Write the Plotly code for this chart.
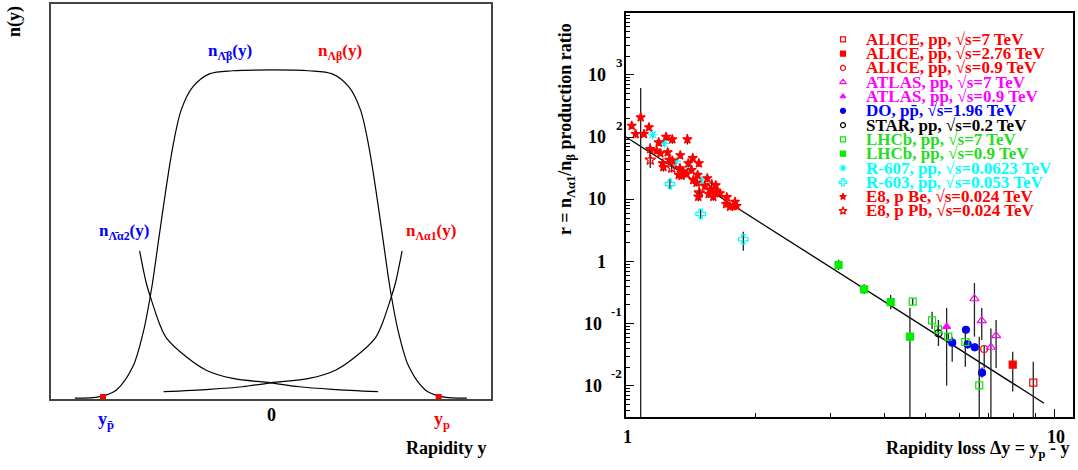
import plotly.graph_objects as go

W, H = 1078, 470
FONT = "Liberation Serif"

# ---------------- left panel : schematic rapidity densities ----------------
beta_y = [-1.168, -1.020, -0.920, -0.822, -0.762, -0.712, -0.663, -0.623, -0.584, -0.534,
          -0.465, -0.366, -0.227, 0.0, 0.227, 0.366, 0.465, 0.534, 0.584, 0.623, 0.663,
          0.712, 0.762, 0.822, 0.920, 1.020, 1.168]
beta_n = [0.002, 0.006, 0.023, 0.082, 0.166, 0.276, 0.420, 0.537, 0.639, 0.732,
          0.790, 0.823, 0.831, 0.833, 0.831, 0.823, 0.790, 0.732, 0.639, 0.537, 0.420,
          0.276, 0.166, 0.082, 0.023, 0.006, 0.002]
a2_y = [-0.782, -0.742, -0.712, -0.663, -0.623, -0.504, -0.385, -0.227, 0.0, 0.169, 0.367, 0.639]
a2_n = [0.375, 0.293, 0.251, 0.190, 0.155, 0.107, 0.073, 0.052, 0.041, 0.031, 0.0245, 0.0185]
a1_y = [-0.639, -0.367, -0.169, 0.0, 0.227, 0.385, 0.504, 0.623, 0.663, 0.712, 0.742, 0.782]
a1_n = [0.0185, 0.0245, 0.031, 0.041, 0.052, 0.073, 0.107, 0.155, 0.190, 0.251, 0.293, 0.375]
beam_y = [-1.0, 1.0]
beam_n = [0.005, 0.005]

# ---------------- right panel : measured ratios ----------------
alice7_dy = [8.90];  alice7_r = [0.0113];  alice7_lo = [0.001];  alice7_hi = [0.0245]
alice276_dy = [7.97]; alice276_r = [0.0219]; alice276_lo = [0.0081]; alice276_hi = [0.0355]
alice09_dy = [6.84]; alice09_r = [0.0392]; alice09_lo = [0.0192]; alice09_hi = [0.045]
atlas7_dy = [6.49, 6.75, 7.09, 7.29]
atlas7_r = [0.252, 0.112, 0.0418, 0.0641]
atlas7_lo = [0.0618, 0.0547, 0.001, 0.0194]
atlas7_hi = [0.451, 0.179, 0.084, 0.115]
atlas09_dy = [5.59]; atlas09_r = [0.0895]; atlas09_lo = [0.0101]; atlas09_hi = [0.179]
d0_dy = [6.20, 5.76, 6.26, 6.50, 6.76]
d0_r = [0.080, 0.0495, 0.0466, 0.0418, 0.0163]
d0_lo = [0.070, 0.0245, 0.040, 0.036, 0.0135]
d0_hi = [0.092, 0.0618, 0.054, 0.048, 0.0197]
star_dy = [5.35]; star_r = [0.0701]; star_lo = [0.0437]; star_hi = [0.115]
lhcb7_dy = [4.66, 5.17, 5.34, 5.64, 6.18, 6.66]
lhcb7_r = [0.226, 0.1135, 0.0813, 0.0618, 0.0508, 0.0102]
lhcb7_lo = [0.20, 0.082, 0.070, 0.055, 0.0204, 0.001]
lhcb7_hi = [0.26, 0.156, 0.095, 0.070, 0.082, 0.0618]
lhcb09_dy = [3.13, 3.59, 4.14, 4.59]
lhcb09_r = [0.879, 0.357, 0.223, 0.0618]
lhcb09_lo = [0.73, 0.30, 0.17, 0.001]
lhcb09_hi = [1.06, 0.43, 0.29, 0.179]
r607_dy = [1.154, 1.228, 1.308, 1.397, 1.501]
r607_r = [109, 79, 41, 30.4, 19.7]
r607_lo = [98, 71, 37, 27.5, 17.8]
r607_hi = [120, 87, 45, 33.5, 21.7]
r603_dy = [1.266, 1.493, 1.877]
r603_r = [17.6, 5.8, 2.27]
r603_lo = [14.5, 4.9, 1.49]
r603_hi = [21.5, 7.0, 3.0]
e8be_dy = [1.031, 1.082, 1.053, 1.101, 1.131, 1.139, 1.192, 1.240, 1.282, 1.390,
           1.179, 1.202, 1.251, 1.338, 1.262, 1.218, 1.222, 1.282, 1.431, 1.479,
           1.397, 1.336, 1.360, 1.327, 1.348, 1.385, 1.422, 1.469, 1.435, 1.461,
           1.482, 1.474, 1.547, 1.570, 1.559, 1.619, 1.627, 1.656, 1.718, 1.711,
           1.748, 1.779, 1.811, 1.795, 1.528, 1.598]
e8be_r = [152, 208, 112, 112, 144, 64, 82, 101, 92, 92,
          60, 55, 57, 51, 43, 38, 33, 42, 46, 38,
          38, 31.5, 27.8, 24.6, 23.9, 25.5, 29.6, 24.6, 20.4, 18.5,
          12.5, 11.0, 21.8, 14.1, 12.2, 16.8, 13.3, 12.5, 10.8, 8.4,
          7.6, 7.8, 7.8, 9.1, 16.4, 11.0]
e8be_lo = [135, 0.001, 98, 100, 128, 50, 72, 88, 78, 76,
           53, 49, 50, 45, 38, 33, 28, 37, 40, 33,
           33, 27.5, 24.5, 21.5, 21, 22.5, 26, 21.5, 17.5, 16,
           10.5, 9.3, 19, 12.3, 10.5, 14.8, 11.6, 11, 9.4, 7.3,
           6.8, 6.9, 6.9, 8.0, 14.3, 9.5]
e8be_hi = [170, 615, 126, 124, 160, 80, 92, 114, 106, 112,
           67, 61, 64, 57, 48, 43, 38, 47, 52, 43,
           43, 35.5, 31, 27.7, 26.8, 28.5, 33, 27.7, 23.3, 21,
           14.6, 12.7, 24.6, 16, 14, 18.8, 15, 14, 12.3, 9.6,
           8.4, 8.7, 8.7, 10.2, 18.5, 12.5]
e8pb_dy = [1.139, 1.278, 1.482, 1.585]
e8pb_r = [43, 32, 12.8, 17]
e8pb_lo = [32, 27, 11, 15]
e8pb_hi = [62, 38, 15, 19]

fit_A = 100.0      # r(Δy=1)
fit_slope = -4.39  # power-law exponent
fit_dy = [1.0, 9.43]

legend_labels = ["ALICE, pp, √s=7 TeV", "ALICE, pp, √s=2.76 TeV", "ALICE, pp, √s=0.9 TeV",
                 "ATLAS, pp, √s=7 TeV", "ATLAS, pp, √s=0.9 TeV", "DO, pp̄, √s=1.96 TeV",
                 "STAR, pp, √s=0.2 TeV", "LHCb, pp, √s=7 TeV", "LHCb, pp, √s=0.9 TeV",
                 "R-607, pp, √s=0.0623 TeV", "R-603, pp, √s=0.053 TeV",
                 "E8, p Be, √s=0.024 TeV", "E8, p Pb, √s=0.024 TeV"]

RED, MAG, BLUE, BLK, GRN, CYN = "#ff0000", "#ff00ff", "#0000ff", "#000000", "#00ee00", "#00ffff"

series = [
    (alice7_dy, alice7_r, alice7_lo, alice7_hi, "square-open", RED, 7),
    (alice276_dy, alice276_r, alice276_lo, alice276_hi, "square", RED, 7),
    (alice09_dy, alice09_r, alice09_lo, alice09_hi, "circle-open", RED, 7),
    (atlas7_dy, atlas7_r, atlas7_lo, atlas7_hi, "triangle-up-open", MAG, 8),
    (atlas09_dy, atlas09_r, atlas09_lo, atlas09_hi, "triangle-up", MAG, 7),
    (d0_dy, d0_r, d0_lo, d0_hi, "circle", BLUE, 7),
    (star_dy, star_r, star_lo, star_hi, "circle-open", BLK, 7),
    (lhcb7_dy, lhcb7_r, lhcb7_lo, lhcb7_hi, "square-open", GRN, 7),
    (lhcb09_dy, lhcb09_r, lhcb09_lo, lhcb09_hi, "square", GRN, 7),
    (r607_dy, r607_r, r607_lo, r607_hi, "asterisk-open", CYN, 8),
    (r603_dy, r603_r, r603_lo, r603_hi, "cross-open", CYN, 8),
    (e8be_dy, e8be_r, e8be_lo, e8be_hi, "star", RED, 7),
    (e8pb_dy, e8pb_r, e8pb_lo, e8pb_hi, "star-open", RED, 8),
]

fig = go.Figure()


def px2x(px):
    return px / W


def px2y(py):
    return 1 - py / H


# left panel curves
for xs, ns in [(beta_y, beta_n), (a1_y, a1_n), (a2_y, a2_n)]:
    fig.add_trace(go.Scatter(x=xs, y=ns, mode="lines",
                             line=dict(color="black", width=1.2, shape="spline", smoothing=0.9),
                             xaxis="x", yaxis="y", showlegend=False, hoverinfo="skip"))
fig.add_trace(go.Scatter(x=beam_y, y=beam_n, mode="markers", marker=dict(symbol="square", color=RED, size=6),
                         xaxis="x", yaxis="y", showlegend=False, cliponaxis=False))

# right panel: fit line
fit_r = [fit_A * d ** fit_slope for d in fit_dy]
fig.add_trace(go.Scatter(x=fit_dy, y=fit_r, mode="lines", line=dict(color="black", width=1.3),
                         xaxis="x2", yaxis="y2", showlegend=False))

# right panel: data
for dy, r, lo, hi, sym, col, sz in series:
    ep = [h - v for h, v in zip(hi, r)]
    em = [v - l for v, l in zip(r, lo)]
    fig.add_trace(go.Scatter(
        x=dy, y=r, mode="markers", xaxis="x2", yaxis="y2", showlegend=False,
        marker=dict(symbol=sym, color=col, size=sz, line=dict(color=col, width=1.2)),
        error_y=dict(type="data", symmetric=False, array=ep, arrayminus=em,
                     color="#222222", thickness=1.3, width=0)))

# manual legend (overlay pixel axis)
leg_x0, leg_y0, leg_dy = 843, 39.3, 14.3
leg_xs = [leg_x0] * len(series)
leg_ys = [leg_y0 + i * leg_dy for i in range(len(series))]
for i, (dy, r, lo, hi, sym, col, sz) in enumerate(series):
    fig.add_trace(go.Scatter(x=[leg_xs[i]], y=[leg_ys[i]], mode="markers", xaxis="x3", yaxis="y3",
                             showlegend=False,
                             marker=dict(symbol=sym, color=col, size=max(sz - 2, 5),
                                         line=dict(color=col, width=1.2))))
    fig.add_annotation(x=px2x(864), y=px2y(leg_ys[i]), xref="paper", yref="paper", xanchor="left",
                       yanchor="middle", text="<b>%s</b>" % legend_labels[i], showarrow=False,
                       font=dict(family=FONT, size=17, color=col if col != GRN else "#22dd22"))


def add(text, x, y, size=17, color="black", xanchor="center", yanchor="middle", angle=0):
    fig.add_annotation(x=px2x(x), y=px2y(y), xref="paper", yref="paper", text=text, showarrow=False,
                       xanchor=xanchor, yanchor=yanchor, textangle=angle,
                       font=dict(family=FONT, size=size, color=color))


# left labels
add("<b>n(y)</b>", 15, 22, size=18, angle=-90)
add("<b>n<sub>Λ̄β</sub>(y)</b>", 230, 52, color=BLUE)
add("<b>n<sub>Λβ</sub>(y)</b>", 340, 52, color=RED)
add("<b>n<sub>Λ̄α2</sub>(y)</b>", 124, 232, color=BLUE)
add("<b>n<sub>Λα1</sub>(y)</b>", 431, 232, color=RED)
add("<b>y<sub>p̄</sub></b>", 106, 420, size=18, color=BLUE)
add("<b>0</b>", 271.5, 415, size=18)
add("<b>y<sub>p</sub></b>", 442, 420, size=18, color=RED)
add("<b>Rapidity y</b>", 489, 448, size=18, xanchor="right")

# right labels
add("<b>r = n<sub>Λα1</sub>/n<sub>β</sub> production ratio</b>", 566, 129, size=18, angle=-90)
add("<b>Rapidity loss Δy = y<sub>p</sub> - y</b>", 1072, 449, size=18, xanchor="right")
for t, xp in [("1", 627), ("10", 1056)]:
    add("<b>%s</b>" % t, xp, 437, size=18)
ytick_exp = [-2, -1, 0, 1, 2, 3]
for e in ytick_exp:
    py = 261.5 - e * 62.2
    if e == 0:
        add("<b>1</b>", 608, py, size=18, xanchor="right")
    elif e == 1:
        add("<b>10</b>", 608, py, size=18, xanchor="right")
    else:
        add("<b>10</b>", 604 if e < 0 else 608, py, size=18, xanchor="right")
        add("<b>%d</b>" % e, 609 if e < 0 else 614, py - 12, size=13, xanchor="left")

minor_ticks = dict(ticks="inside", ticklen=4, tickcolor="black", tickwidth=1, dtick="D1", showgrid=False)
fig.update_layout(
    width=W, height=H, margin=dict(l=0, r=0, t=0, b=0),
    paper_bgcolor="white", plot_bgcolor="rgba(0,0,0,0)", showlegend=False,
    font=dict(family=FONT, color="black"),
    xaxis=dict(domain=[51 / W, 490.7 / W], range=[-1.31, 1.31], showline=True, mirror=True,
               linecolor="#444444", linewidth=1.5, showgrid=False, zeroline=False, ticks="",
               showticklabels=False, anchor="y"),
    yaxis=dict(domain=[1 - 399 / H, 1 - 4 / H], range=[0, 1], showline=True, mirror=True,
               linecolor="#444444", linewidth=1.5, showgrid=False, zeroline=False, ticks="",
               showticklabels=False, anchor="x"),
    xaxis2=dict(domain=[626 / W, 1073 / W], type="log", range=[0, 1.042], showline=True, mirror=True,
                linecolor="black", linewidth=2, showgrid=False, zeroline=False,
                ticks="inside", ticklen=8, tickcolor="black", dtick=1, tick0=0,
                minor=minor_ticks, showticklabels=False, anchor="y2"),
    yaxis2=dict(domain=[1 - 417 / H, 1 - 12.7 / H], type="log", range=[-2.5, 4.0], showline=True,
                mirror=True, linecolor="black", linewidth=2, showgrid=False, zeroline=False,
                ticks="inside", ticklen=8, tickcolor="black", dtick=1, tick0=0,
                minor=minor_ticks, showticklabels=False, anchor="x2"),
    xaxis3=dict(domain=[0, 1], range=[0, W], visible=False, anchor="y3", fixedrange=True),
    yaxis3=dict(domain=[0, 1], range=[H, 0], visible=False, anchor="x3", fixedrange=True),
)

fig.write_html("out.html", post_script="document.body.style.margin='0';",
               config={"displayModeBar": False})
